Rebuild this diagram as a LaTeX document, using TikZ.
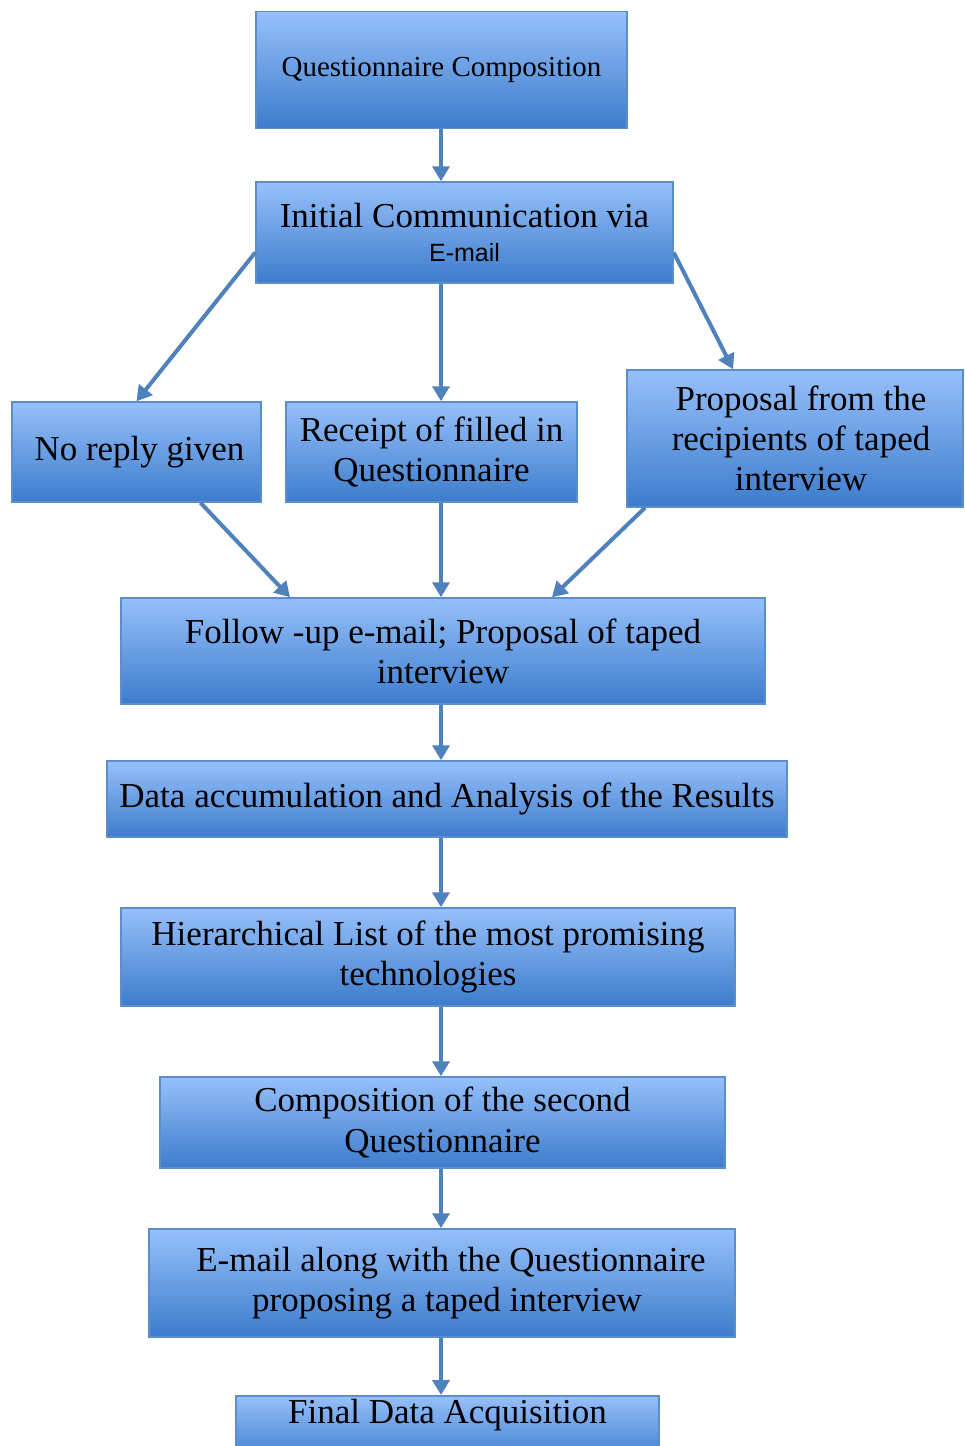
\documentclass[tikz,border=0pt]{standalone}
\usepackage{fontspec}
\setmainfont{Liberation Serif}
\newfontfamily\sansf{Liberation Sans}
\definecolor{boxtop}{RGB}{150,192,250}
\definecolor{boxbot}{RGB}{61,124,204}
\definecolor{boxline}{RGB}{92,142,206}
\definecolor{flowblue}{RGB}{79,129,189}
\usetikzlibrary{arrows.meta,positioning,calc}
\newcommand{\boxfont}{\fontsize{35}{40}\selectfont}
\newcommand{\topfont}{\fontsize{29}{36}\selectfont}

\begin{document}
\begin{tikzpicture}[
                x=1pt,y=-1pt,
                box/.style={draw=boxline,line width=1.5pt,top color=boxtop,bottom color=boxbot,align=center,font=\boxfont,inner sep=4pt},
                flow/.style={draw=flowblue,line width=4pt,-{Triangle[width=17pt,length=15pt]}}
            ]
                \useasboundingbox (0,0) rectangle (964,1446);
                \coordinate (ax) at (441,0);
                \node[box,font=\topfont,minimum width=371pt,minimum height=117pt] (qc) at (441.5,70) {Questionnaire Composition};
                \node[box,minimum width=417pt,minimum height=101pt] (init) at (464.5,232.5) {Initial Communication via\\[-6pt]{\sansf\fontsize{25}{30}\selectfont E-mail}};
                \node[box,minimum width=249pt,minimum height=100pt] (norep) at (136.5,452) {\hspace*{6pt}No reply given};
                \node[box,minimum width=291pt,minimum height=100pt] (rec) at (431.5,452) {Receipt of filled in\\Questionnaire};
                \node[box,minimum width=336pt,minimum height=137pt] (prop) at (795,438.5) {\hspace*{12pt}Proposal from the\\\hspace*{12pt}recipients of taped\\\hspace*{12pt}interview};
                \node[box,minimum width=644pt,minimum height=106pt] (fol) at (443,651) {Follow -up e-mail; Proposal of taped\\interview};
                \node[box,minimum width=680pt,minimum height=76pt] (data) at (447,799) {Data accumulation and Analysis of the Results};
                \node[box,minimum width=614pt,minimum height=98pt] (hier) at (428,957) {Hierarchical List of the most promising\\technologies};
                \node[box,minimum width=565pt,minimum height=91pt] (comp) at (442.5,1122.5) {Composition of the second\\Questionnaire};
                \node[box,minimum width=586pt,minimum height=108pt] (mail) at (442,1283) {\hspace*{18pt}E-mail along with the Questionnaire\\\hspace*{10pt}proposing a taped interview};
                % box runs past the lower edge of the page
                \node[box,minimum width=423pt,minimum height=66pt,anchor=north] (fin) at (447.5,1395) {\raisebox{5pt}[0pt][0pt]{Final Data Acquisition}};
                \draw[flow] (qc.south -| ax) -- (init.north -| ax);
                \draw[flow] ([yshift=-20pt]init.west) -- (norep.north);
                \draw[flow] (init.south -| ax) -- (rec.north -| ax);
                \draw[flow] ([yshift=-20pt]init.east) -- ([xshift=-62pt]prop.north);
                \draw[flow] ([xshift=64pt]norep.south) -- ([xshift=-153pt]fol.north);
                \draw[flow] (rec.south -| ax) -- (fol.north -| ax);
                \draw[flow] ([xshift=-150pt]prop.south) -- ([xshift=109pt]fol.north);
                \draw[flow] (fol.south -| ax) -- (data.north -| ax);
                \draw[flow] (data.south -| ax) -- (hier.north -| ax);
                \draw[flow] (hier.south -| ax) -- (comp.north -| ax);
                \draw[flow] (comp.south -| ax) -- (mail.north -| ax);
                \draw[flow] (mail.south -| ax) -- (fin.north -| ax);
            \end{tikzpicture}
\end{document}
